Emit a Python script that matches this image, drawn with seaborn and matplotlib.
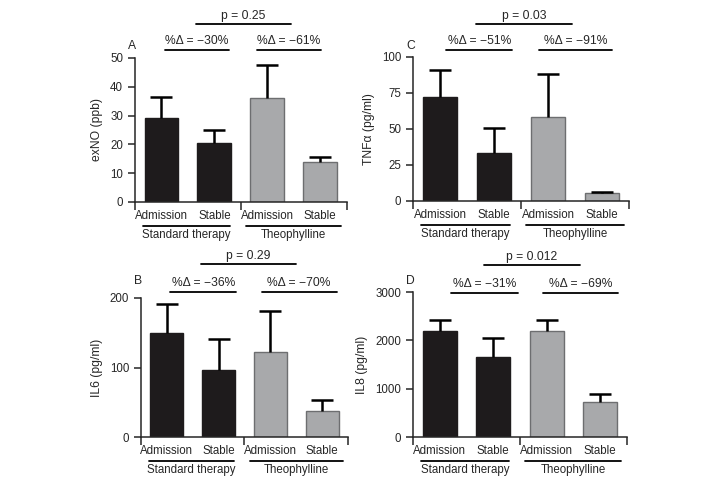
import numpy as np
import pandas as pd
import matplotlib
matplotlib.use("Agg")
import matplotlib.pyplot as plt
import matplotlib.transforms as mtrans
import seaborn as sns

# data
conditions = ["Admission", "Stable", "Admission", "Stable"]
bar_keys = ["std_adm", "std_sta", "theo_adm", "theo_sta"]
groups = ["Standard therapy", "Theophylline"]

exno_mean = [29, 20.5, 36, 14]
exno_err = [7.5, 4.5, 11.5, 1.5]
tnf_mean = [72, 33, 58.5, 5.5]
tnf_err = [19, 17.5, 29.5, 0.5]
il6_mean = [150, 96, 123, 37]
il6_err = [41, 45, 58, 17]
il8_mean = [2200, 1650, 2200, 720]
il8_err = [220, 390, 220, 170]

exno_delta = ["%Δ = −30%", "%Δ = −61%"]
tnf_delta = ["%Δ = −51%", "%Δ = −91%"]
il6_delta = ["%Δ = −36%", "%Δ = −70%"]
il8_delta = ["%Δ = −31%", "%Δ = −69%"]
p_texts = ["p = 0.25", "p = 0.03", "p = 0.29", "p = 0.012"]

BLACK = "#1e1b1c"
GRAY = "#a7a9ac"
GRAY_EDGE = "#6d6e70"

sns.set_style("ticks")
plt.rcParams["font.family"] = ["Liberation Sans", "DejaVu Sans"]
plt.rcParams["font.size"] = 8

fig = plt.figure(figsize=(7.2, 4.95), dpi=100)


def draw_panel(rect, letter, ylabel, mean, err, yticks, deltas, ptext, lay):
    ax = fig.add_axes(rect)
    df = pd.DataFrame({"bar": bar_keys, "value": mean})
    sns.barplot(data=df, x="bar", y="value", hue="bar", order=bar_keys,
                palette=[BLACK, BLACK, GRAY, GRAY], width=0.64,
                errorbar=None, legend=False, ax=ax, zorder=2)
    for p in ax.patches:
        cx = p.get_x() + p.get_width() / 2
        p.set_edgecolor(BLACK if cx < 1.5 else GRAY_EDGE)
        p.set_linewidth(1.0)
    # upper error only (mean + SEM), one cap on top
    eb = ax.errorbar(range(4), mean, yerr=[np.zeros(4), err], fmt="none",
                     ecolor="black", elinewidth=1.8, capsize=8, capthick=1.8, zorder=3)
    eb[1][0].set_visible(False)

    ax.set_xlim(-0.5, 3.5)
    ax.set_ylim(0, yticks[-1])
    ax.set_yticks(yticks)
    ax.set_xticks(range(4))
    ax.set_xticklabels(conditions, fontsize=8.3)
    ax.set_xticks([-0.5, 1.5, 3.5], minor=True)
    ax.tick_params(axis="x", which="major", length=0, pad=6)
    ax.tick_params(axis="x", which="minor", length=6, width=1.1)
    ax.tick_params(axis="y", length=5, width=1.1, labelsize=8.3)
    sns.despine(ax=ax)
    for s in ["left", "bottom"]:
        ax.spines[s].set_linewidth(1.1)
    ax.set_xlabel("")
    ax.set_ylabel(ylabel, fontsize=8.7, labelpad=5)

    blend = mtrans.blended_transform_factory(ax.transData, ax.transAxes)

    def shifted(dy_px):
        return blend + mtrans.ScaledTranslation(0, dy_px / 100, fig.dpi_scale_trans)

    # group underlines below the category names
    below = shifted(-24)
    for (x0, x1), name in zip([(-0.35, 1.3), (1.6, 3.4)], groups):
        ax.plot([x0, x1], [0, 0], color="black", lw=1.3, transform=below, clip_on=False)
        ax.text((x0 + x1) / 2, 0, name, transform=shifted(-27), ha="center", va="top",
                fontsize=8.3)

    # %change lines
    top = shifted(lay["d_dy"])
    for (x0, x1), txt in zip(lay["d_x"], deltas):
        ax.plot([x0, x1], [1, 1], color="black", lw=1.3, transform=top, clip_on=False)
        ax.text((x0 + x1) / 2, 1, txt, transform=shifted(lay["d_dy"] + 3),
                ha="center", va="bottom", fontsize=8.7)

    # p value line
    x0, x1 = lay["p_x"]
    ax.plot([x0, x1], [1, 1], color="black", lw=1.3, transform=shifted(lay["p_dy"]),
            clip_on=False)
    ax.text((x0 + x1) / 2, 1, ptext, transform=shifted(lay["p_dy"] + 2),
            ha="center", va="bottom", fontsize=8.7)

    ax.text(0, 1, letter, transform=ax.transAxes + mtrans.ScaledTranslation(
        -0.07, lay["l_dy"] / 100, fig.dpi_scale_trans), ha="left", va="bottom", fontsize=8.7)
    return ax


draw_panel([0.1875, 0.592, 0.294, 0.291], "A", "exNO (ppb)", exno_mean, exno_err,
           [0, 10, 20, 30, 40, 50], exno_delta, p_texts[0],
           {"d_x": [(0.07, 1.27), (1.81, 3.01)], "d_dy": 8,
            "p_x": (0.65, 2.45), "p_dy": 34, "l_dy": 6})
draw_panel([0.5736, 0.594, 0.300, 0.291], "C", "TNFα (pg/ml)", tnf_mean, tnf_err,
           [0, 25, 50, 75, 100], tnf_delta, p_texts[1],
           {"d_x": [(0.11, 1.34), (1.84, 3.19)], "d_dy": 7,
            "p_x": (0.67, 2.45), "p_dy": 33, "l_dy": 5})
draw_panel([0.1958, 0.117, 0.2875, 0.281], "B", "IL6 (pg/ml)", il6_mean, il6_err,
           [0, 100, 200], il6_delta, p_texts[2],
           {"d_x": [(0.07, 1.34), (1.83, 3.28)], "d_dy": 6,
            "p_x": (0.66, 2.5), "p_dy": 34, "l_dy": 11})
draw_panel([0.5736, 0.117, 0.297, 0.293], "D", "IL8 (pg/ml)", il8_mean, il8_err,
           [0, 1000, 2000, 3000], il8_delta, p_texts[3],
           {"d_x": [(0.22, 1.47), (1.94, 3.34)], "d_dy": -1,
            "p_x": (0.82, 2.63), "p_dy": 27, "l_dy": 5})

fig.savefig("out.png", dpi=100, facecolor="white")
